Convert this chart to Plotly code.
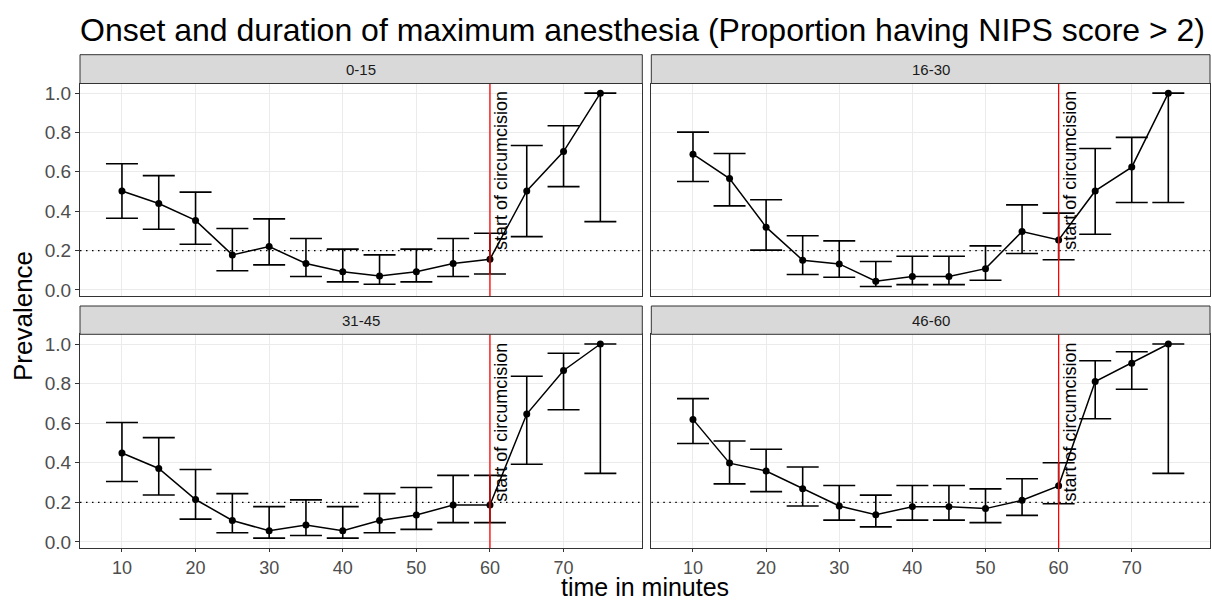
import plotly.graph_objects as go

# ---------------- data ----------------
times = [10, 15, 20, 25, 30, 35, 40, 45, 50, 55, 60, 65, 70, 75]
groups = ["0-15", "16-30", "31-45", "46-60"]
x_ticks = [10, 20, 30, 40, 50, 60, 70]
y_ticks = [0.0, 0.2, 0.4, 0.6, 0.8, 1.0]
threshold = 0.2
circumcision_start = 60

prev_0_15 = [0.503, 0.439, 0.353, 0.178, 0.220, 0.134, 0.092, 0.071, 0.092, 0.134, 0.156, 0.503, 0.703, 1.0]
low_0_15 = [0.364, 0.308, 0.232, 0.097, 0.127, 0.068, 0.041, 0.029, 0.041, 0.068, 0.081, 0.271, 0.525, 0.347]
high_0_15 = [0.641, 0.581, 0.497, 0.312, 0.361, 0.261, 0.207, 0.178, 0.207, 0.261, 0.288, 0.734, 0.834, 1.0]

prev_16_30 = [0.690, 0.566, 0.319, 0.151, 0.132, 0.044, 0.068, 0.068, 0.108, 0.297, 0.254, 0.503, 0.624, 1.0]
low_16_30 = [0.551, 0.427, 0.202, 0.078, 0.064, 0.017, 0.027, 0.027, 0.049, 0.185, 0.153, 0.283, 0.444, 0.444]
high_16_30 = [0.802, 0.693, 0.458, 0.275, 0.249, 0.144, 0.171, 0.171, 0.224, 0.432, 0.390, 0.719, 0.775, 1.0]

prev_31_45 = [0.449, 0.371, 0.214, 0.108, 0.056, 0.085, 0.056, 0.108, 0.136, 0.186, 0.186, 0.646, 0.866, 1.0]
low_31_45 = [0.305, 0.237, 0.115, 0.046, 0.019, 0.032, 0.019, 0.046, 0.063, 0.097, 0.097, 0.392, 0.668, 0.346]
high_31_45 = [0.603, 0.527, 0.366, 0.244, 0.178, 0.212, 0.178, 0.244, 0.275, 0.336, 0.336, 0.837, 0.953, 1.0]

prev_46_60 = [0.619, 0.398, 0.358, 0.268, 0.181, 0.137, 0.178, 0.178, 0.168, 0.210, 0.283, 0.810, 0.903, 1.0]
low_46_60 = [0.497, 0.293, 0.254, 0.181, 0.110, 0.076, 0.110, 0.110, 0.097, 0.134, 0.193, 0.622, 0.771, 0.346]
high_46_60 = [0.724, 0.510, 0.468, 0.378, 0.285, 0.236, 0.285, 0.285, 0.268, 0.319, 0.400, 0.915, 0.961, 1.0]

series = {
    "0-15": (prev_0_15, low_0_15, high_0_15),
    "16-30": (prev_16_30, low_16_30, high_16_30),
    "31-45": (prev_31_45, low_31_45, high_31_45),
    "46-60": (prev_46_60, low_46_60, high_46_60),
}

# ---------------- layout geometry ----------------
W, H = 1212, 602
ML, MR, MT, MB = 80, 2, 55, 54
PW, PH = W - ML - MR, H - MT - MB


def px_x(px):
    return (px - ML) / PW


def px_y(py):
    return (H - MB - py) / PH


col_dom = [[px_x(80), px_x(642.3)], [px_x(651.3), 1.0]]
row_dom = [[px_y(296), px_y(83.5)], [0.0, px_y(334.3)]]
strip_dom = [[px_y(83.5), px_y(54.7)], [px_y(334.3), px_y(306)]]

FONT = "Arial, Liberation Sans, sans-serif"
fig = go.Figure()

x_range = [4.3, 80.7]
y_range = [-0.031, 1.049]

for i, g in enumerate(groups):
    r, c = divmod(i, 2)
    n = i + 1
    xa = "x" if n == 1 else f"x{n}"
    ya = "y" if n == 1 else f"y{n}"
    prev, low, high = series[g]
    # dotted threshold line (as a trace so it sits above the grid)
    fig.add_trace(go.Scatter(
        x=[x_range[0], x_range[1]], y=[threshold, threshold],
        xaxis=xa, yaxis=ya, mode="lines",
        line=dict(color="black", width=1.3, dash="1.5px,4.5px"),
        showlegend=False, hoverinfo="skip",
    ))
    fig.add_trace(go.Scatter(
        x=times, y=prev, xaxis=xa, yaxis=ya, mode="lines+markers",
        line=dict(color="black", width=1.5),
        marker=dict(color="black", size=7),
        error_y=dict(type="data", symmetric=False,
                     array=[h - p for h, p in zip(high, prev)],
                     arrayminus=[p - l for p, l in zip(prev, low)],
                     color="black", thickness=1.6, width=16),
        showlegend=False, hoverinfo="skip", cliponaxis=False,
    ))
    xkey = "xaxis" if n == 1 else f"xaxis{n}"
    ykey = "yaxis" if n == 1 else f"yaxis{n}"
    fig.layout[xkey] = dict(
        domain=col_dom[c], anchor=ya, range=x_range,
        tickvals=x_ticks, showticklabels=(r == 1),
        ticks="outside" if r == 1 else "", ticklen=3, tickcolor="#333333",
        tickfont=dict(size=18, color="#4d4d4d", family=FONT),
        showgrid=True, gridcolor="#ebebeb", gridwidth=1, zeroline=False,
        showline=True, mirror=True, linecolor="#333333", linewidth=1,
    )
    fig.layout[ykey] = dict(
        domain=row_dom[r], anchor=xa, range=y_range,
        tickvals=y_ticks, tickformat=".1f", showticklabels=(c == 0),
        ticks="outside" if c == 0 else "", ticklen=4, tickcolor="#333333",
        tickfont=dict(size=19, color="#4d4d4d", family=FONT),
        showgrid=True, gridcolor="#ebebeb", gridwidth=1, zeroline=False,
        showline=True, mirror=True, linecolor="#333333", linewidth=1,
    )
    # red vertical line
    fig.add_shape(type="line", xref=xa, yref=f"{ya} domain",
                  x0=circumcision_start, x1=circumcision_start, y0=0, y1=1,
                  line=dict(color="red", width=1.3))
    fig.add_annotation(x=circumcision_start, y=threshold, xref=xa, yref=ya,
                       text="start of circumcision", textangle=-90,
                       xanchor="left", yanchor="bottom", showarrow=False,
                       font=dict(size=18, color="black", family=FONT),
                       borderpad=0)
    # strip
    fig.add_shape(type="rect", xref="paper", yref="paper",
                  x0=col_dom[c][0], x1=col_dom[c][1],
                  y0=strip_dom[r][0], y1=strip_dom[r][1],
                  fillcolor="#d9d9d9", line=dict(color="#333333", width=1))
    fig.add_annotation(x=(col_dom[c][0] + col_dom[c][1]) / 2,
                       y=(strip_dom[r][0] + strip_dom[r][1]) / 2,
                       xref="paper", yref="paper", text=g, showarrow=False,
                       xanchor="center", yanchor="middle",
                       font=dict(size=15, color="#1a1a1a", family=FONT))

# axis titles
fig.add_annotation(x=0.5, y=px_y(587), xref="paper", yref="paper",
                   text="time in minutes", showarrow=False,
                   xanchor="center", yanchor="middle",
                   font=dict(size=25, color="black", family=FONT))
fig.add_annotation(x=px_x(23), y=px_y(316), xref="paper", yref="paper",
                   text="Prevalence", showarrow=False, textangle=-90,
                   xanchor="center", yanchor="middle",
                   font=dict(size=26, color="black", family=FONT))

fig.update_layout(
    width=W, height=H,
    margin=dict(l=ML, r=MR, t=MT, b=MB),
    paper_bgcolor="white", plot_bgcolor="white",
    title=dict(text="Onset and duration of maximum anesthesia (Proportion having NIPS score > 2)",
               x=80 / W, xanchor="left", xref="container",
               y=1 - 30 / H, yanchor="middle", yref="container",
               font=dict(size=32, color="black", family=FONT)),
    font=dict(family=FONT),
)

fig.write_html("out.html", config={"displayModeBar": False},
               post_script="document.body.style.margin='0';document.body.style.overflow='hidden';")
